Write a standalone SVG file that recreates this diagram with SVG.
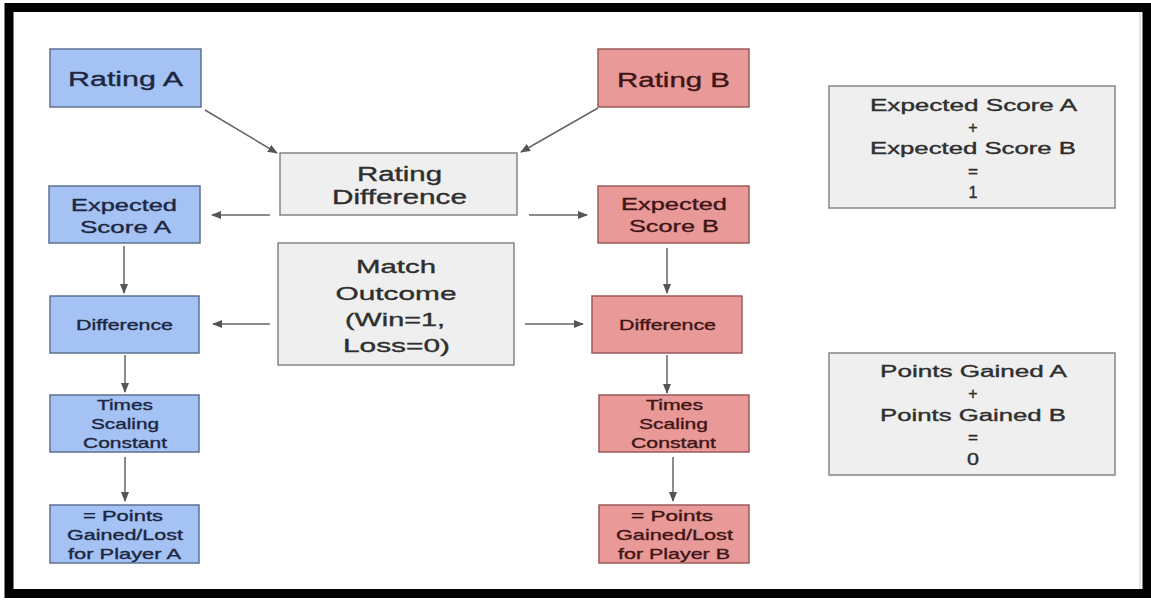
<svg xmlns="http://www.w3.org/2000/svg" width="1151" height="604" viewBox="0 0 1151 604">
  <style>
    text { font-family: "Liberation Sans", Arial, sans-serif; text-anchor: middle; stroke-width: 0.35; }
    .blue { fill: #a4c2f4; stroke: #5d7092; stroke-width: 1.5; }
    .red { fill: #ea9999; stroke: #9a5b5b; stroke-width: 1.5; }
    .gray { fill: #efefef; stroke: #858585; stroke-width: 1.5; }
    .tb { fill: #1d2640; stroke: #1d2640; }
    .tr { fill: #3e1616; stroke: #3e1616; }
    .tg { fill: #2e2e2e; stroke: #2e2e2e; }
    .edge { stroke: #666; stroke-width: 1.5; fill: none; marker-end: url(#arrow); }
  </style>
  <defs>
    <marker id="arrow" markerWidth="10" markerHeight="8" refX="9" refY="4" orient="auto" markerUnits="userSpaceOnUse">
      <path d="M0,0 L10,4 L0,8 Z" fill="#555"/>
    </marker>
  </defs>

  <!-- frame -->
  <rect x="0" y="0" width="1151" height="604" fill="#ffffff"/>
  <rect x="9" y="7.5" width="1138" height="586" fill="none" stroke="#000" stroke-width="9"/>
  <line x1="1140" y1="12" x2="1140" y2="589" stroke="#c8c8c8" stroke-width="1"/>

  <g id="connectors">
    <line class="edge" x1="205" y1="110" x2="277" y2="153"/>
    <line class="edge" x1="598" y1="108" x2="521" y2="152"/>
    <line class="edge" x1="270" y1="215" x2="212" y2="215"/>
    <line class="edge" x1="529" y1="215" x2="587" y2="215"/>
    <line class="edge" x1="124" y1="246" x2="124" y2="293"/>
    <line class="edge" x1="667" y1="248" x2="667" y2="293"/>
    <line class="edge" x1="270" y1="324" x2="213" y2="324"/>
    <line class="edge" x1="525" y1="324" x2="583" y2="324"/>
    <line class="edge" x1="125" y1="355" x2="125" y2="392"/>
    <line class="edge" x1="667" y1="355" x2="667" y2="393"/>
    <line class="edge" x1="125" y1="457" x2="125" y2="501"/>
    <line class="edge" x1="673" y1="457" x2="673" y2="501"/>
  </g>

  <g id="rating-a">
    <rect class="blue" x="50" y="49" width="151" height="58"/>
    <text class="tb" x="125.5" y="86" font-size="20" textLength="115" lengthAdjust="spacingAndGlyphs">Rating A</text>
  </g>

  <g id="rating-b">
    <rect class="red" x="598" y="49" width="151" height="58"/>
    <text class="tr" x="673.5" y="87" font-size="20" textLength="113" lengthAdjust="spacingAndGlyphs">Rating B</text>
  </g>

  <g id="rating-difference">
    <rect class="gray" x="280" y="153" width="237" height="62"/>
    <text class="tg" x="399.5" y="181" font-size="20" textLength="85" lengthAdjust="spacingAndGlyphs">Rating</text>
    <text class="tg" x="399.5" y="204" font-size="20" textLength="135" lengthAdjust="spacingAndGlyphs">Difference</text>
  </g>

  <g id="match-outcome">
    <rect class="gray" x="278" y="243" width="236" height="122"/>
    <text class="tg" x="396" y="273" font-size="19" textLength="80" lengthAdjust="spacingAndGlyphs">Match</text>
    <text class="tg" x="396" y="300" font-size="19" textLength="121" lengthAdjust="spacingAndGlyphs">Outcome</text>
    <text class="tg" x="395" y="326" font-size="19" textLength="100" lengthAdjust="spacingAndGlyphs">(Win=1,</text>
    <text class="tg" x="396.5" y="352" font-size="19" textLength="107" lengthAdjust="spacingAndGlyphs">Loss=0)</text>
  </g>

  <g id="expected-score-a">
    <rect class="blue" x="49" y="186" width="151" height="57"/>
    <text class="tb" x="124" y="211" font-size="17" textLength="106" lengthAdjust="spacingAndGlyphs">Expected</text>
    <text class="tb" x="125.5" y="233" font-size="17" textLength="91" lengthAdjust="spacingAndGlyphs">Score A</text>
  </g>

  <g id="expected-score-b">
    <rect class="red" x="598" y="186" width="151" height="57"/>
    <text class="tr" x="674" y="210" font-size="17" textLength="106" lengthAdjust="spacingAndGlyphs">Expected</text>
    <text class="tr" x="674" y="232" font-size="17" textLength="90" lengthAdjust="spacingAndGlyphs">Score B</text>
  </g>

  <g id="difference-a">
    <rect class="blue" x="50" y="296" width="149" height="57"/>
    <text class="tb" x="124.5" y="330" font-size="14.5" textLength="97" lengthAdjust="spacingAndGlyphs">Difference</text>
  </g>

  <g id="difference-b">
    <rect class="red" x="592" y="296" width="150" height="57"/>
    <text class="tr" x="667.5" y="330" font-size="14.5" textLength="97" lengthAdjust="spacingAndGlyphs">Difference</text>
  </g>

  <g id="scaling-a">
    <rect class="blue" x="50" y="395" width="149" height="57"/>
    <text class="tb" x="125" y="410" font-size="14.5" textLength="56" lengthAdjust="spacingAndGlyphs">Times</text>
    <text class="tb" x="125" y="429" font-size="14.5" textLength="68" lengthAdjust="spacingAndGlyphs">Scaling</text>
    <text class="tb" x="125" y="448" font-size="14.5" textLength="84" lengthAdjust="spacingAndGlyphs">Constant</text>
  </g>

  <g id="scaling-b">
    <rect class="red" x="599" y="395" width="150" height="57"/>
    <text class="tr" x="674.5" y="410" font-size="14.5" textLength="57" lengthAdjust="spacingAndGlyphs">Times</text>
    <text class="tr" x="673.5" y="429" font-size="14.5" textLength="69" lengthAdjust="spacingAndGlyphs">Scaling</text>
    <text class="tr" x="673.5" y="448" font-size="14.5" textLength="85" lengthAdjust="spacingAndGlyphs">Constant</text>
  </g>

  <g id="points-a">
    <rect class="blue" x="50" y="505" width="149" height="58"/>
    <text class="tb" x="123" y="521" font-size="14.5" textLength="80" lengthAdjust="spacingAndGlyphs">= Points</text>
    <text class="tb" x="125" y="540" font-size="14.5" textLength="116" lengthAdjust="spacingAndGlyphs">Gained/Lost</text>
    <text class="tb" x="124.5" y="559" font-size="14.5" textLength="113" lengthAdjust="spacingAndGlyphs">for Player A</text>
  </g>

  <g id="points-b">
    <rect class="red" x="599" y="505" width="150" height="58"/>
    <text class="tr" x="672" y="521" font-size="14.5" textLength="82" lengthAdjust="spacingAndGlyphs">= Points</text>
    <text class="tr" x="674.5" y="540" font-size="14.5" textLength="117" lengthAdjust="spacingAndGlyphs">Gained/Lost</text>
    <text class="tr" x="674" y="559" font-size="14.5" textLength="112" lengthAdjust="spacingAndGlyphs">for Player B</text>
  </g>

  <g id="expected-sum">
    <rect class="gray" x="829" y="86" width="286" height="122"/>
    <text class="tg" x="973.5" y="111" font-size="16" textLength="207" lengthAdjust="spacingAndGlyphs">Expected Score A</text>
    <text class="tg" x="973" y="133" font-size="16">+</text>
    <text class="tg" x="973" y="154" font-size="16" textLength="206" lengthAdjust="spacingAndGlyphs">Expected Score B</text>
    <text class="tg" x="973" y="177" font-size="16" textLength="10" lengthAdjust="spacingAndGlyphs">=</text>
    <text class="tg" x="973" y="198" font-size="16" textLength="9" lengthAdjust="spacingAndGlyphs">1</text>
  </g>

  <g id="points-sum">
    <rect class="gray" x="829" y="353" width="286" height="122"/>
    <text class="tg" x="973.5" y="377" font-size="16" textLength="187" lengthAdjust="spacingAndGlyphs">Points Gained A</text>
    <text class="tg" x="973" y="399" font-size="16">+</text>
    <text class="tg" x="973" y="421" font-size="16" textLength="186" lengthAdjust="spacingAndGlyphs">Points Gained B</text>
    <text class="tg" x="973" y="443" font-size="16" textLength="10" lengthAdjust="spacingAndGlyphs">=</text>
    <text class="tg" x="973" y="465" font-size="16" textLength="12" lengthAdjust="spacingAndGlyphs">0</text>
  </g>
</svg>
